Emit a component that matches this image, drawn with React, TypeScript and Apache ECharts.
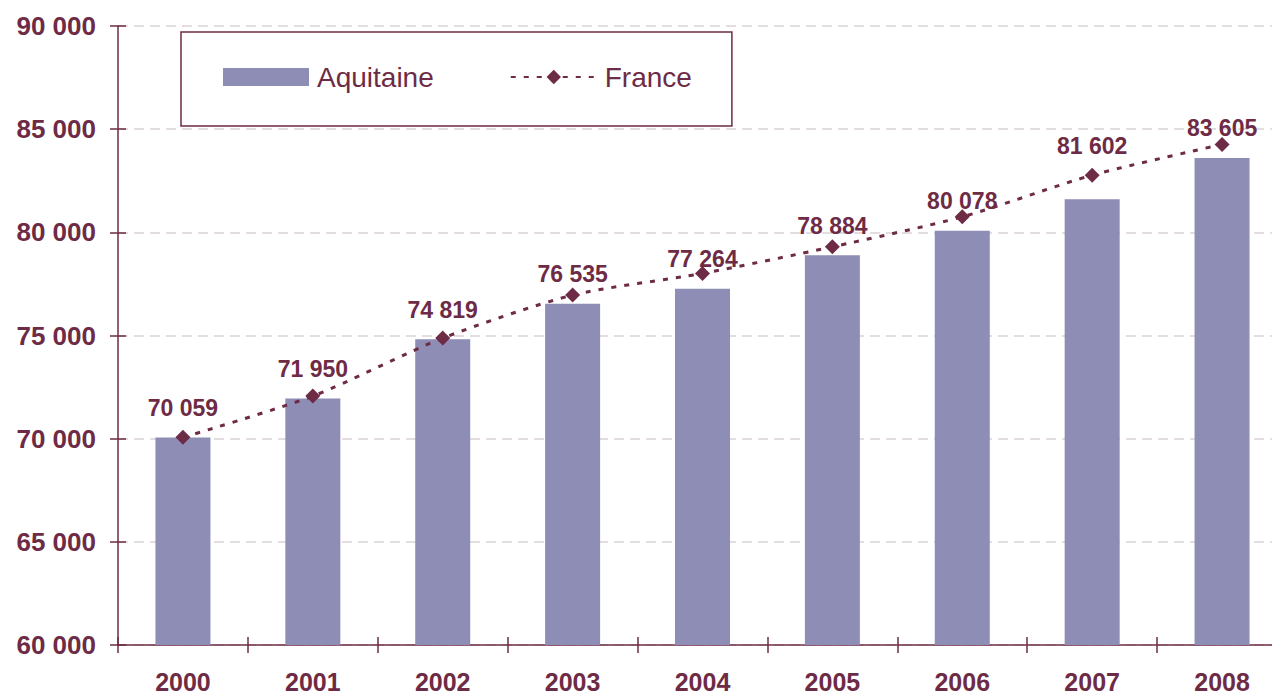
import React, { useEffect, useRef } from "react";
import * as echarts from "echarts";

const years = ["2000", "2001", "2002", "2003", "2004", "2005", "2006", "2007", "2008"];
const aquitaine = [70059, 71950, 74819, 76535, 77264, 78884, 80078, 81602, 83605];
const france = [70063, 72064, 74874, 76957, 78009, 79298, 80751, 82771, 84259];
const yTicks = { min: 60000, max: 90000, interval: 5000 };

const TEXT = "#6E2B45";
const BAR = "#8D8DB5";
const FONT = "'Liberation Sans', Arial, sans-serif";

const fmt = (n: number) => String(n).replace(/\B(?=(\d{3})+(?!\d))/g, " ");

export default function App() {
  const ref = useRef<HTMLDivElement>(null);
  useEffect(() => {
    if (!ref.current) return;
    const chart = echarts.init(ref.current, null, { renderer: "svg" });
    const yBase = {
      type: "value",
      position: "left",
      min: yTicks.min,
      max: yTicks.max,
      interval: yTicks.interval,
    };
    chart.setOption({
      animation: false,
      textStyle: { fontFamily: FONT },
      grid: { left: 118, top: 26, width: 1169, bottom: 50, containLabel: false },
      legend: {
        left: 181,
        top: 32,
        orient: "horizontal",
        borderColor: TEXT,
        borderWidth: 1.5,
        borderRadius: 0,
        padding: [31, 40, 35, 42],
        itemGap: 76,
        itemWidth: 86,
        itemHeight: 18,
        textStyle: { color: TEXT, fontSize: 28, fontFamily: FONT, padding: [0, 0, 0, 3] },
        data: [
          { name: "Aquitaine", icon: "rect" },
          { name: "France" },
        ],
      },
      xAxis: [
        {
          type: "category",
          data: years,
          position: "bottom",
          axisLine: { lineStyle: { color: TEXT, width: 1.5 } },
          axisTick: { show: true, length: 8, lineStyle: { color: TEXT, width: 1.5 } },
          axisLabel: { color: TEXT, fontSize: 25, fontWeight: "bold", margin: 24, fontFamily: FONT },
        },
        {
          type: "category",
          data: years,
          position: "bottom",
          axisLine: { show: false },
          axisTick: { show: true, inside: true, length: 8, lineStyle: { color: TEXT, width: 1.5 } },
          axisLabel: { show: false },
        },
      ],
      yAxis: [
        {
          ...yBase,
          axisLine: { show: true, lineStyle: { color: TEXT, width: 1.5 } },
          axisTick: { show: true, length: 8, lineStyle: { color: TEXT, width: 1.5 } },
          axisLabel: {
            color: TEXT,
            fontSize: 26,
            fontWeight: "bold",
            margin: 22,
            fontFamily: FONT,
            formatter: (v: number) => fmt(v),
          },
          splitLine: { show: true, lineStyle: { color: "#DCD2D5", type: [10, 6], width: 1.5 } },
        },
        {
          ...yBase,
          axisLine: { show: false },
          axisTick: { show: true, inside: true, length: 8, lineStyle: { color: TEXT, width: 1.5 } },
          axisLabel: { show: false },
          splitLine: { show: false },
        },
      ],
      series: [
        {
          name: "Aquitaine",
          type: "bar",
          barWidth: 55,
          itemStyle: { color: BAR },
          data: aquitaine.map((v, i) =>
            i === 7
              ? { value: v, label: { offset: [0, -24] } }
              : v
          ),
          label: {
            show: true,
            position: "top",
            distance: 18,
            color: TEXT,
            fontSize: 23,
            fontWeight: "bold",
            fontFamily: FONT,
            formatter: (p: any) => fmt(p.value),
          },
          z: 2,
        },
        {
          name: "France",
          type: "line",
          data: france,
          smooth: 0.25,
          symbol: "diamond",
          symbolSize: [15, 15],
          itemStyle: { color: TEXT },
          lineStyle: { color: TEXT, width: 3, type: [5, 8] },
          label: { show: false },
          z: 3,
        },
      ],
    });
    return () => chart.dispose();
  }, []);
  return (
    <div
      style={{
        position: "absolute",
        left: 0,
        top: 0,
        width: 1272,
        height: 695,
        overflow: "hidden",
        background: "#fff",
      }}
    >
      <div ref={ref} style={{ width: 1292, height: 695 }} />
    </div>
  );
}
